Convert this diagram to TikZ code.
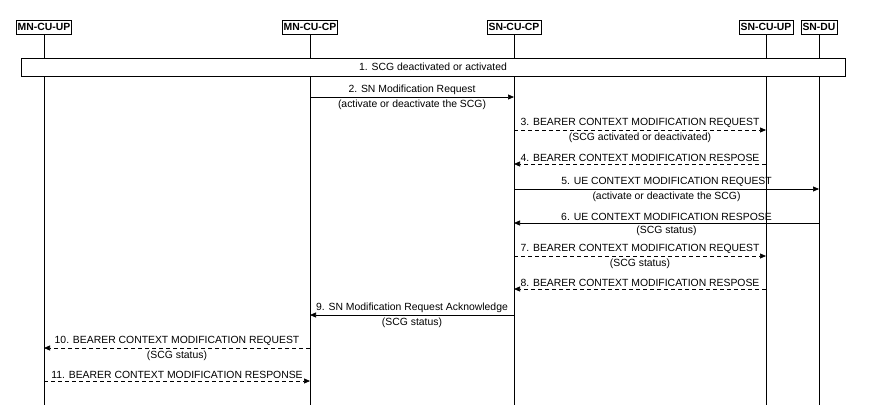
\documentclass[tikz,border=0pt]{standalone}
\usepackage{fontspec}
\setmainfont{Liberation Sans}
\usetikzlibrary{arrows.meta}

\tikzset{
  entity/.style={draw, line width=0.7pt, inner sep=1.5pt, minimum height=14pt, font=\fontsize{10.4}{11}\selectfont\bfseries},
  lifeline/.style={line width=0.7pt},
  stepbox/.style={draw, fill=white, line width=0.7pt, minimum height=18pt, font=\fontsize{10.4}{11}\selectfont},
  msg/.style={line width=0.7pt, -{Triangle[length=6pt,width=5pt]}},
  dmsg/.style={msg, dash pattern=on 4pt off 3pt},
  lbl/.style={midway, inner sep=1pt, font=\fontsize{10.4}{11}\selectfont},
  lblabove/.style={lbl, above=1pt},
  lblbelow/.style={lbl, below=2pt}
}

\begin{document}
\begin{tikzpicture}[x=1pt,y=-1pt]
  \useasboundingbox (0,0) rectangle (869,415);
  % Entities
  \node[entity] (mnup) at (44,27)  {MN-CU-UP};
  \node[entity] (mncp) at (310,27) {MN-CU-CP};
  \node[entity] (sncp) at (514,27) {SN-CU-CP};
  \node[entity] (snup) at (766,27) {SN-CU-UP};
  \node[entity] (sndu) at (819,27) {SN-DU};
  % Lifelines
  \foreach \e in {mnup,mncp,sncp,snup,sndu}
    \draw[lifeline] (\e.south) -- (\e |- 0,405) coordinate (\e-end);
  % Step 1
  \node[stepbox, minimum width=824pt] (scg) at (433,67) {1. SCG deactivated or activated};
  % Messages
  \draw[msg] (mncp |- 0,97) -- (sncp |- 0,97)
    node[lblabove] {2. SN Modification Request}
    node[lblbelow] {(activate or deactivate the SCG)};
  \draw[dmsg] (sncp |- 0,130) -- (snup |- 0,130)
    node[lblabove] {3. BEARER CONTEXT MODIFICATION REQUEST}
    node[lblbelow] {(SCG activated or deactivated)};
  \draw[dmsg] (snup |- 0,164) -- (sncp |- 0,164)
    node[lblabove] {4. BEARER CONTEXT MODIFICATION RESPOSE};
  \draw[msg] (sncp |- 0,189) -- (sndu |- 0,189)
    node[lblabove] {5. UE CONTEXT MODIFICATION REQUEST}
    node[lblbelow] {(activate or deactivate the SCG)};
  \draw[msg] (sndu |- 0,223) -- (sncp |- 0,223)
    node[lblabove] {6. UE CONTEXT MODIFICATION RESPOSE}
    node[lblbelow] {(SCG status)};
  \draw[dmsg] (sncp |- 0,256) -- (snup |- 0,256)
    node[lblabove] {7. BEARER CONTEXT MODIFICATION REQUEST}
    node[lblbelow] {(SCG status)};
  \draw[dmsg] (snup |- 0,289) -- (sncp |- 0,289)
    node[lblabove] {8. BEARER CONTEXT MODIFICATION RESPOSE};
  \draw[msg] (sncp |- 0,315) -- (mncp |- 0,315)
    node[lblabove] {9. SN Modification Request Acknowledge}
    node[lblbelow] {(SCG status)};
  \draw[dmsg] (mncp |- 0,348) -- (mnup |- 0,348)
    node[lblabove] {10. BEARER CONTEXT MODIFICATION REQUEST}
    node[lblbelow] {(SCG status)};
  \draw[dmsg] (mnup |- 0,381) -- (mncp |- 0,381)
    node[lblabove] {11. BEARER CONTEXT MODIFICATION RESPONSE};
\end{tikzpicture}
\end{document}
